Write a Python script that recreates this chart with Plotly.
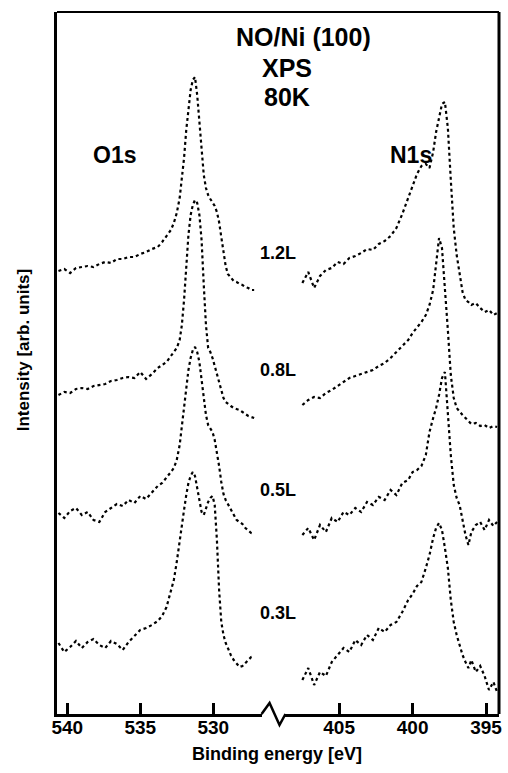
import plotly.graph_objects as go

# ---------------- data ----------------
coverages = ["1.2L", "0.8L", "0.5L", "0.3L"]

o1s_energy = [540.6, 540.2, 539.8, 539.4, 539.0, 538.6, 538.2, 537.8, 537.4, 537.0,
              536.6, 536.2, 535.8, 535.4, 535.0, 534.6, 534.2, 533.8, 533.5, 533.2,
              532.9, 532.7, 532.5, 532.3, 532.15, 532.0, 531.85, 531.7, 531.55, 531.4,
              531.25, 531.1, 530.95, 530.8, 530.65, 530.5, 530.35, 530.2, 530.05, 529.9,
              529.75, 529.6, 529.45, 529.3, 529.15, 529.0, 528.8, 528.6, 528.4, 528.2,
              528.0, 527.8, 527.6, 527.4, 527.2]

o1s_12 = [443, 445, 441, 446, 447, 448, 447, 450, 452, 451,
          455, 455, 457, 457, 460, 462, 465, 467, 472, 478,
          484, 491, 501, 516, 534, 556, 584, 608, 624, 634,
          637, 619, 594, 564, 539, 526, 519, 515, 511, 508,
          502, 492, 477, 461, 448, 440, 436, 433, 432, 430,
          429, 427, 426, 424, 424]

o1s_08 = [319, 322, 321, 325, 326, 325, 328, 329, 330, 333,
          334, 336, 337, 336, 342, 335, 340, 346, 349, 352,
          358, 362, 366, 374, 389, 414, 452, 479, 499, 509,
          514, 511, 499, 474, 429, 389, 366, 362, 356, 348,
          341, 334, 324, 316, 312, 310, 308, 306, 305, 304,
          302, 300, 298, 297, 296]

o1s_05 = [201, 196, 203, 206, 199, 202, 194, 192, 202, 206,
          210, 208, 214, 211, 218, 215, 222, 228, 231, 236,
          242, 246, 254, 269, 289, 309, 329, 344, 356, 364,
          367, 362, 352, 334, 316, 299, 289, 286, 282, 274,
          262, 248, 232, 220, 214, 210, 204, 198, 194, 192,
          190, 186, 183, 181, 180]

o1s_03 = [71, 62, 67, 73, 66, 72, 75, 69, 66, 73,
          70, 64, 72, 78, 84, 86, 89, 93, 98, 107,
          122, 134, 152, 171, 189, 204, 219, 231, 238, 242,
          238, 227, 214, 202, 199, 206, 212, 216, 218, 209,
          174, 124, 92, 79, 71, 66, 59, 54, 50, 47,
          48, 51, 54, 57, 58]

n1s_energy = [407.5, 407.1, 406.7, 406.3, 405.9, 405.5, 405.1, 404.7, 404.3, 403.9,
              403.5, 403.1, 402.7, 402.3, 401.9, 401.5, 401.1, 400.7, 400.3, 400.0,
              399.7, 399.4, 399.1, 398.85, 398.6, 398.4, 398.2, 398.0, 397.8, 397.6,
              397.4, 397.2, 397.0, 396.8, 396.6, 396.4, 396.2, 396.0, 395.7, 395.4,
              395.1, 394.8, 394.5, 394.25]

n1s_12 = [431, 442, 426, 438, 444, 446, 452, 450, 456, 458,
          461, 465, 464, 470, 473, 478, 486, 500, 516, 528,
          540, 548, 550, 546, 562, 582, 598, 610, 612, 586,
          534, 486, 459, 439, 422, 414, 412, 409, 411, 406,
          402, 404, 399, 401]

n1s_08 = [309, 314, 317, 316, 321, 324, 328, 332, 336, 338,
          340, 342, 344, 348, 351, 356, 362, 367, 374, 381,
          386, 392, 399, 409, 424, 452, 476, 466, 429, 384,
          339, 316, 306, 302, 299, 296, 293, 290, 291, 288,
          289, 286, 288, 287]

n1s_05 = [179, 186, 174, 189, 182, 196, 192, 202, 199, 206,
          202, 212, 209, 217, 214, 224, 219, 231, 234, 242,
          244, 248, 259, 282, 296, 306, 319, 336, 342, 299,
          259, 229, 216, 209, 194, 179, 169, 182, 189, 192,
          184, 194, 188, 192]

n1s_03 = [34, 46, 29, 42, 38, 52, 59, 66, 62, 74,
          69, 79, 74, 86, 82, 89, 92, 102, 114, 120,
          128, 132, 146, 159, 176, 186, 191, 184, 166, 146,
          114, 92, 79, 69, 59, 52, 46, 54, 42, 48,
          38, 24, 32, 22]

o1s_ticks = [540, 535, 530]
n1s_ticks = [405, 400, 395]

# ---------------- figure ----------------
FONT = "Liberation Sans, Arial, sans-serif"

fig = go.Figure()
line_style = dict(color="black", width=2.2, dash="dot")

for vals in [o1s_12, o1s_08, o1s_05, o1s_03]:
    fig.add_trace(go.Scatter(x=o1s_energy, y=vals, xaxis="x", yaxis="y",
                             mode="lines", line=line_style,
                             showlegend=False, hoverinfo="skip"))
for vals in [n1s_12, n1s_08, n1s_05, n1s_03]:
    fig.add_trace(go.Scatter(x=n1s_energy, y=vals, xaxis="x2", yaxis="y",
                             mode="lines", line=line_style,
                             showlegend=False, hoverinfo="skip"))

axis_common = dict(ticks="inside", ticklen=11, tickwidth=2.5, tickcolor="black",
                   showline=True, linewidth=3, linecolor="black",
                   showgrid=False, zeroline=False, anchor="y",
                   ticklabelstandoff=-6,
                   tickfont=dict(family=FONT, size=19, color="black", weight="bold"))

fig.update_layout(
    width=508, height=773,
    margin=dict(l=57, r=6, t=12, b=59),
    paper_bgcolor="white", plot_bgcolor="white",
    xaxis=dict(domain=[0, 0.4629], range=[540.7, 526.69], tickvals=o1s_ticks,
               **axis_common),
    xaxis2=dict(domain=[0.5169, 1], range=[408.65, 394.12], tickvals=n1s_ticks,
                **axis_common),
    yaxis=dict(range=[0, 702], showticklabels=False, ticks="", showline=True,
               linewidth=3, linecolor="black", showgrid=False, zeroline=False),
)

# frame: top and right edges, axis break zig-zag
fig.add_shape(type="line", xref="paper", yref="paper", x0=0, x1=1, y0=1, y1=1,
              line=dict(color="black", width=2))
fig.add_shape(type="line", xref="paper", yref="paper", x0=1, x1=1, y0=0, y1=1,
              line=dict(color="black", width=3))
fig.add_shape(type="path", xref="paper", yref="paper",
              path="M 0.4629,0 L 0.4809,0.0157 L 0.5034,-0.0157 L 0.5169,0",
              line=dict(color="black", width=2.5))

def ann(text, x, y, size, angle=0):
    fig.add_annotation(text=f"<b>{text}</b>", x=x, y=y, xref="paper", yref="paper",
                       showarrow=False, xanchor="center", yanchor="middle",
                       textangle=angle,
                       font=dict(family=FONT, size=size, color="black"))

ann("NO/Ni (100)", 0.557, 0.964, 25)
ann("XPS", 0.521, 0.920, 25)
ann("80K", 0.521, 0.879, 25)
ann("O1s", 0.130, 0.796, 23)
ann("N1s", 0.802, 0.796, 23)

label_y = [0.657, 0.490, 0.319, 0.144]
for lab, yy in zip(coverages, label_y):
    ann(lab, 0.499, yy, 18)

ann("Binding energy [eV]", 0.497, -0.057, 18)
ann("Intensity [arb. units]", -0.0764, 0.5185, 17, angle=-90)

fig.write_html("out.html")
